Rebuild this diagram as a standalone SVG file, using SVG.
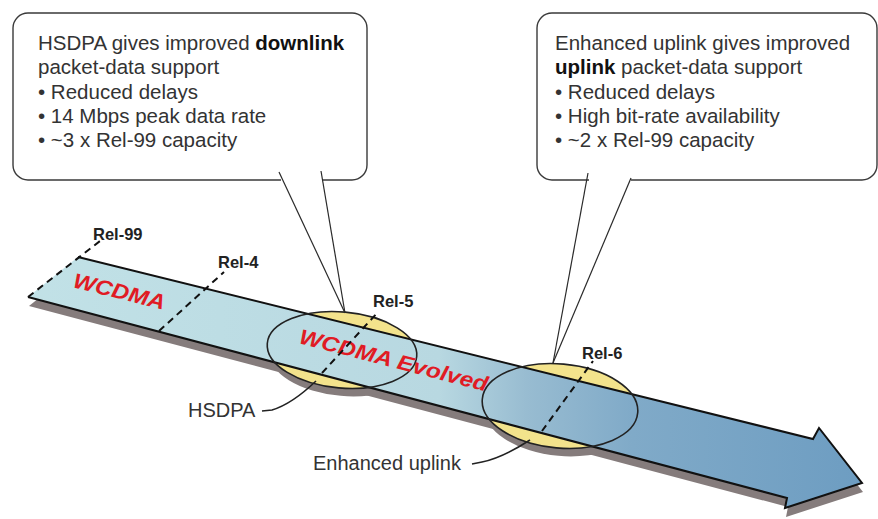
<svg xmlns="http://www.w3.org/2000/svg" width="878" height="519" viewBox="0 0 878 519">
<style>
.bubble{fill:#fff;stroke:#3a3a3a;stroke-width:1.4}
.ptr{fill:none;stroke:#2a2a2a;stroke-width:1.2}
.edge{fill:none;stroke:#111;stroke-width:2;stroke-linejoin:miter}
.dash{fill:none;stroke:#111;stroke-width:2;stroke-dasharray:7,5}
.ell{fill:none;stroke:#222;stroke-width:1.6}
.yel{fill:#f3e38c}
.shadow{fill:#857c7c}
.ct{font-family:"Liberation Sans",Arial,sans-serif;font-size:20.5px;fill:#333}
.ct .b{font-weight:bold;fill:#111}
.rel{font-family:"Liberation Sans",Arial,sans-serif;font-size:16.5px;font-weight:bold;fill:#222}
.red{font-family:"Liberation Sans",Arial,sans-serif;font-size:21px;font-weight:bold;font-style:italic;fill:#e01b24}
.lbl{font-family:"Liberation Sans",Arial,sans-serif;font-size:20px;fill:#333}
.lead{fill:none;stroke:#222;stroke-width:1.6}
</style>
<defs>
<linearGradient id="bandGrad" gradientUnits="userSpaceOnUse" x1="0" y1="0" x2="878" y2="0">
<stop offset="0" stop-color="#c2e2e7"/>
<stop offset="0.5" stop-color="#b8d8e1"/>
<stop offset="0.6" stop-color="#98bcd1"/>
<stop offset="0.72" stop-color="#80aac8"/>
<stop offset="1" stop-color="#6c9cc1"/>
</linearGradient>
</defs>

<g id="shadows">
<polygon class="shadow" transform="translate(1,9)" points="78,257 813,439 819,428 862,483 785,508 787,498 28,297"/>
<ellipse class="shadow" cx="344" cy="358" rx="75" ry="38" transform="rotate(5 344 358)"/>
<ellipse class="shadow" cx="562" cy="414" rx="78" ry="42" transform="rotate(5 562 414)"/>
</g>

<g id="rel5-ellipse-fill">
<ellipse class="yel" cx="342" cy="350" rx="75" ry="38" transform="rotate(5 342 350)"/>
</g>
<g id="rel6-ellipse-fill">
<ellipse class="yel" cx="560" cy="406" rx="78" ry="42" transform="rotate(5 560 406)"/>
</g>

<g id="band">
<polygon fill="url(#bandGrad)" points="78,257 813,439 819,428 862,483 785,508 787,498 28,297"/>
<polyline class="edge" points="78,257 813,439 819,428 862,483 785,508 787,498 28,297"/>
<line class="dash" x1="28" y1="297" x2="100" y2="241"/>
<text class="red" x="72" y="287" textLength="94" lengthAdjust="spacingAndGlyphs" transform="rotate(14 72 287)">WCDMA</text>
</g>

<g id="rel5-ellipse">
<ellipse class="ell" cx="342" cy="350" rx="75" ry="38" transform="rotate(5 342 350)"/>
<text class="red" x="298" y="343" textLength="194" lengthAdjust="spacingAndGlyphs" transform="rotate(14.5 298 343)">WCDMA Evolved</text>
</g>
<g id="rel6-ellipse">
<ellipse class="ell" cx="560" cy="406" rx="78" ry="42" transform="rotate(5 560 406)"/>
</g>

<g id="releases">
<line class="dash" x1="159" y1="331" x2="224" y2="272"/>
<line class="dash" x1="322" y1="373" x2="378" y2="312"/>
<line class="dash" x1="542" y1="431" x2="593" y2="361"/>
<text class="rel" x="93" y="240">Rel-99</text>
<text class="rel" x="218" y="268">Rel-4</text>
<text class="rel" x="373" y="307">Rel-5</text>
<text class="rel" x="582" y="359">Rel-6</text>
</g>

<g id="callout-hsdpa">
<path class="bubble" d="M281,180 L28,180 A15,15 0 0 1 13,165 L13,28 A15,15 0 0 1 28,13 L352,13 A15,15 0 0 1 367,28 L367,165 A15,15 0 0 1 352,180 L322,180"/>
<text class="ct" x="38" y="50">HSDPA gives improved <tspan class="b">downlink</tspan></text>
<text class="ct" x="38" y="74">packet-data support</text>
<text class="ct" x="38" y="98.5">• Reduced delays</text>
<text class="ct" x="38" y="122.5">• 14 Mbps peak data rate</text>
<text class="ct" x="38" y="147">• ~3 x Rel-99 capacity</text>
</g>

<g id="callout-eul">
<path class="bubble" d="M589,180 L552,180 A15,15 0 0 1 537,165 L537,28 A15,15 0 0 1 552,13 L862,13 A15,15 0 0 1 877,28 L877,165 A15,15 0 0 1 862,180 L631,180"/>
<text class="ct" x="555" y="50">Enhanced uplink gives improved</text>
<text class="ct" x="555" y="74"><tspan class="b">uplink</tspan> packet-data support</text>
<text class="ct" x="555" y="98.5">• Reduced delays</text>
<text class="ct" x="555" y="122.5">• High bit-rate availability</text>
<text class="ct" x="555" y="147">• ~2 x Rel-99 capacity</text>
</g>

<g id="label-hsdpa">
<text class="lbl" x="188" y="417">HSDPA</text>
</g>
<g id="label-eul">
<text class="lbl" x="313" y="470">Enhanced uplink</text>
</g>

<g id="connectors">
<line class="ptr" x1="279" y1="172" x2="345" y2="313"/>
<line class="ptr" x1="321" y1="171" x2="345" y2="313"/>
<line class="ptr" x1="588" y1="173" x2="553" y2="363"/>
<line class="ptr" x1="631" y1="178" x2="553" y2="363"/>
<path class="lead" d="M262,411 L272,410 Q292,404 316,381"/>
<path class="lead" d="M472,464 L482,462 Q502,458 530,440"/>
</g>
</svg>
